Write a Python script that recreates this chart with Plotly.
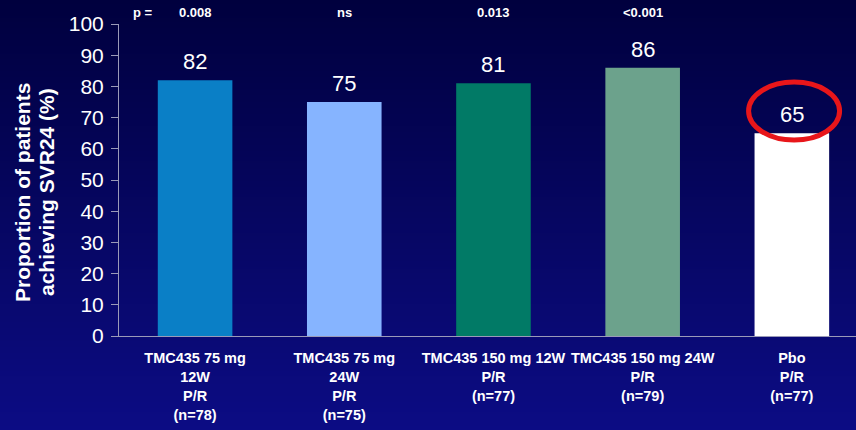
import base64
import struct
import zlib

import plotly.graph_objects as go

# ---- data ----
categories = [
    "TMC435 75 mg<br>12W<br>P/R<br>(n=78)",
    "TMC435 75 mg<br>24W<br>P/R<br>(n=75)",
    "TMC435 150 mg 12W<br>P/R<br>(n=77)",
    "TMC435 150 mg 24W<br>P/R<br>(n=79)",
    "Pbo<br>P/R<br>(n=77)",
]
svr24 = [82, 75, 81, 86, 65]
p_values = ["0.008", "ns", "0.013", "<0.001"]
bar_colors = ["#0a7fc6", "#86b4ff", "#017a66", "#6ca28c", "#ffffff"]

W, H = 856, 430
ML, MR, MT, MB = 119, 0, 24, 94
PW, PH = W - ML - MR, H - MT - MB


def gradient_png(height, top, bottom):
    """1-pixel-wide vertical gradient PNG as a data URI."""
    raw = b""
    for i in range(height):
        t = i / (height - 1)
        px = bytes(int(round(a + (b - a) * t)) for a, b in zip(top, bottom))
        raw += b"\x00" + px

    def chunk(tag, data):
        c = struct.pack(">I", len(data)) + tag + data
        return c + struct.pack(">I", zlib.crc32(tag + data) & 0xFFFFFFFF)

    png = b"\x89PNG\r\n\x1a\n"
    png += chunk(b"IHDR", struct.pack(">IIBBBBB", 1, height, 8, 2, 0, 0, 0))
    png += chunk(b"IDAT", zlib.compress(raw))
    png += chunk(b"IEND", b"")
    return "data:image/png;base64," + base64.b64encode(png).decode()


sans = "Liberation Sans, Arial, sans-serif"

fig = go.Figure(
    go.Bar(
        x=categories,
        y=svr24,
        marker=dict(color=bar_colors, line=dict(width=0)),
        width=0.5,
        hoverinfo="skip",
    )
)

# value labels above bars
for cat, v in zip(categories, svr24):
    fig.add_annotation(
        x=cat, y=v, text=str(v), showarrow=False,
        yanchor="bottom", yshift=4,
        font=dict(family=sans, size=22, color="white"),
    )

# p-value row
fig.add_annotation(
    x=-0.35, y=1, xref="x", yref="paper", text="p =", showarrow=False,
    yanchor="bottom", yshift=2,
    font=dict(family=sans, size=13, color="white", weight="bold"),
)
for cat, p in zip(categories, p_values):
    fig.add_annotation(
        x=cat, y=1, yref="paper", text=p, showarrow=False,
        yanchor="bottom", yshift=2,
        font=dict(family=sans, size=13, color="white", weight="bold"),
    )

# y-axis title, two lines
for line, px in [("Proportion of patients", 22), ("achieving SVR24 (%)", 46)]:
    fig.add_annotation(
        x=(px - ML) / PW, y=(336 - 192) / PH, xref="paper", yref="paper",
        text=line, textangle=-90, showarrow=False,
        xanchor="center", yanchor="middle",
        font=dict(family=sans, size=21, color="white", weight="bold"),
    )

# red ring highlighting the placebo value
fig.add_shape(
    type="circle", xref="x", yref="y",
    x0=3.71, x1=4.32, y0=62.8, y1=81.4,
    line=dict(color="#e8161a", width=5),
)

fig.update_layout(
    width=W, height=H,
    margin=dict(l=ML, r=MR, t=MT, b=MB, autoexpand=False),
    paper_bgcolor="#00003f",
    plot_bgcolor="rgba(0,0,0,0)",
    showlegend=False,
    images=[dict(
        source=gradient_png(H, (0, 0, 62), (12, 12, 132)),
        xref="paper", yref="paper",
        x=-ML / PW, y=1 + MT / PH, sizex=W / PW, sizey=H / PH,
        xanchor="left", yanchor="top", sizing="stretch", layer="below",
    )],
    xaxis=dict(
        type="category", range=[-0.51, 4.43],
        showline=True, linecolor="#9a9ab8", linewidth=1,
        ticks="", showgrid=False, zeroline=False,
        tickangle=0, automargin=False, ticklabelstandoff=9,
        tickfont=dict(family=sans, size=14.5, color="white", weight="bold"),
    ),
    yaxis=dict(
        range=[0, 100], dtick=10, tick0=0,
        showline=True, linecolor="#9a9ab8", linewidth=1,
        ticks="outside", ticklen=7, tickcolor="#9a9ab8",
        showgrid=False, zeroline=False, automargin=False,
        ticklabelstandoff=3,
        tickfont=dict(family=sans, size=21, color="white"),
    ),
)

fig.write_html("out.html")
